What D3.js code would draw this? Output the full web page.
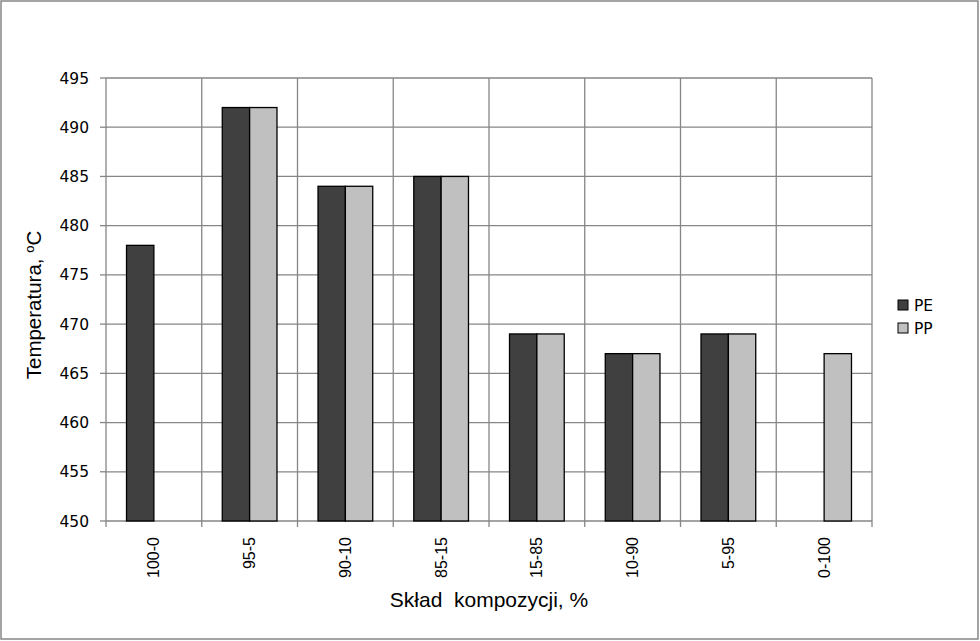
<!DOCTYPE html>
<html><head><meta charset="utf-8">
<script src="https://cdn.jsdelivr.net/npm/d3@7/dist/d3.min.js"></script>
<style>body{margin:0;background:#fff;}svg{display:block;}</style>
</head><body>
<svg id="c" width="980" height="641"></svg>
<script>
const categories = ["100-0","95-5","90-10","85-15","15-85","10-90","5-95","0-100"];
const seriesNames = ["PE","PP"];
const peValues = [478, 492, 484, 485, 469, 467, 469, null];
const ppValues = [null, 492, 484, 485, 469, 467, 469, 467];
const yTicks = [450,455,460,465,470,475,480,485,490,495];
const colors = {PE:"#404040", PP:"#c0c0c0"};

const svg = d3.select("#c");
const W=980,H=641;
const L=106,R=872,T=78,B=521;
const grid="#868686";

svg.append("rect").attr("x",1).attr("y",1).attr("width",W-3).attr("height",H-3)
  .attr("fill","#fff").attr("stroke",grid).attr("stroke-width",1.5);

const x = d3.scaleBand().domain(categories).range([L,R]).paddingInner(0).paddingOuter(0);
const xs = d3.scaleBand().domain(seriesNames).range([0,x.bandwidth()]).paddingInner(0).paddingOuter(0.75);
const y = d3.scaleLinear().domain([450,495]).range([B,T]);

const g = svg.append("g");
g.selectAll("line.hg").data(yTicks).join("line")
  .attr("x1",L).attr("x2",R).attr("y1",d=>y(d)).attr("y2",d=>y(d))
  .attr("stroke",grid).attr("stroke-width",1.3);
const bounds = categories.map(c=>x(c)).concat([R]);
g.selectAll("line.vg").data(bounds).join("line")
  .attr("x1",d=>d).attr("x2",d=>d).attr("y1",T).attr("y2",B+6)
  .attr("stroke",grid).attr("stroke-width",1.3);
g.selectAll("line.yt").data(yTicks).join("line")
  .attr("x1",L-6).attr("x2",L).attr("y1",d=>y(d)).attr("y2",d=>y(d))
  .attr("stroke",grid).attr("stroke-width",1.3);

const data = [];
categories.forEach((c,i)=>{
  if(peValues[i]!=null) data.push({c,s:"PE",v:peValues[i]});
  if(ppValues[i]!=null) data.push({c,s:"PP",v:ppValues[i]});
});
g.selectAll("rect.bar").data(data).join("rect")
  .attr("x",d=>x(d.c)+xs(d.s)).attr("width",xs.bandwidth())
  .attr("y",d=>y(d.v)).attr("height",d=>B-y(d.v))
  .attr("fill",d=>colors[d.s]).attr("stroke","#000").attr("stroke-width",1.3);

g.selectAll("text.yl").data(yTicks).join("text")
  .attr("x",L-17).attr("y",d=>y(d)).attr("dy","0.36em")
  .attr("text-anchor","end").attr("font-family","DejaVu Sans").attr("font-size",15.5)
  .attr("fill","#000").text(d=>d);

g.selectAll("text.xl").data(categories).join("text")
  .attr("transform",d=>`translate(${x(d)+x.bandwidth()/2+5.5},537) rotate(-90)`)
  .attr("text-anchor","end").attr("font-family","Liberation Sans, Arial").attr("font-size",16)
  .attr("fill","#000").text(d=>d);

const yt = svg.append("text").attr("transform","translate(41,305) rotate(-90)")
  .attr("text-anchor","middle").attr("font-family","Liberation Sans, Arial").attr("font-size",20.5).attr("fill","#000");
yt.append("tspan").text("Temperatura, ");
yt.append("tspan").attr("font-size",13).attr("dy",-7).text("o");
yt.append("tspan").attr("dy",7).text("C");

svg.append("text").attr("x",489).attr("y",607).attr("text-anchor","middle")
  .attr("font-family","Liberation Sans, Arial").attr("font-size",21).attr("fill","#000")
  .attr("xml:space","preserve").style("white-space","pre").text("Skład  kompozycji, %");

const lg = svg.append("g").attr("transform","translate(898,300)");
seriesNames.forEach((s,i)=>{
  lg.append("rect").attr("x",0).attr("y",i*23).attr("width",10).attr("height",10)
    .attr("fill",colors[s]).attr("stroke","#000").attr("stroke-width",1);
  lg.append("text").attr("x",16).attr("y",i*23+5).attr("dy","0.38em")
    .attr("font-family","DejaVu Sans").attr("font-size",15.5).attr("fill","#000").text(s);
});
</script>
</body></html>
